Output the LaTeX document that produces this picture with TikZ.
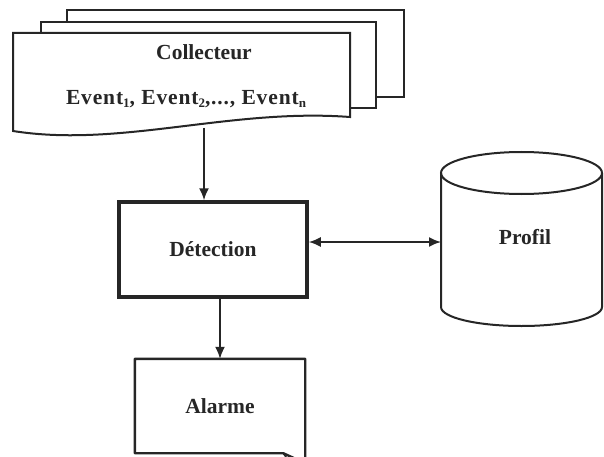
\documentclass[tikz,border=0pt]{standalone}
\usepackage{fontspec}
\setmainfont{Liberation Serif}
\newfontfamily\spacedserif[LetterSpace=4]{Liberation Serif}
\usetikzlibrary{arrows.meta}
\newcommand\evsub[1]{\raisebox{-0.3ex}{\fontsize{13}{13}\selectfont #1}}
\begin{document}
\begin{tikzpicture}[x=1pt,y=-1pt,
  ink/.style={draw=black!85},
  label/.style={font=\fontsize{21.5}{26}\selectfont\bfseries, text=black!85},
  conn/.style={ink, line width=1.8pt, -{Latex[length=12pt,width=10pt]}},
  biconn/.style={ink, line width=1.8pt,
    {Latex[length=12pt,width=10pt]}-{Latex[length=12pt,width=10pt]}}]
\useasboundingbox (0,0) rectangle (604,457);

% stacked documents behind the collector
\draw[ink, line width=1.8pt, fill=white] (67,10) rectangle (404,97);
\draw[ink, line width=1.8pt, fill=white] (41,22) rectangle (376,108);
% front document with wavy bottom edge
\draw[ink, line width=2pt, fill=white]
  (13,33) -- (350,33) -- (350,117)
  .. controls (230,108) and (120,148) .. (13,131) -- cycle;
\node[label] (coll) at (204,52) {Collecteur};
\node[label, font=\fontsize{21.5}{26}\selectfont\spacedserif\bfseries] (events) at (186,99)
  {Event\evsub{1}, Event\evsub{2},..., Event\evsub{n}};
\coordinate (collb) at (204,128);

% detection block
\node[ink, line width=3.5pt, minimum width=188pt, minimum height=95pt,
      inner sep=0pt, label] (det) at (213,249.5) {Détection};

% profile database (cylinder)
\draw[ink, line width=2pt, fill=white]
  (441,173) -- (441,307) arc[start angle=180, end angle=0, x radius=80.5, y radius=19]
  -- (602,173);
\draw[ink, line width=2pt] (521.5,173) ellipse[x radius=80.5, y radius=21];
\node[label] (prof) at (525,237) {Profil};
\coordinate (profw) at (441,242);

% alarm document with folded corner
\node[minimum width=170pt, minimum height=94pt, inner sep=0pt, label]
  (alarm) at (220,406) {Alarme};
\draw[ink, line width=2.4pt, line join=round]
  (alarm.north west) -- (alarm.north east) -- ([yshift=-10pt]alarm.south east)
  -- ([xshift=-22pt]alarm.south east) -- (alarm.south west) -- cycle;
\draw[ink, line width=1.6pt, line join=round]
  ([xshift=-22pt]alarm.south east) -- ([xshift=-16pt,yshift=-8pt]alarm.south east)
  -- ([yshift=-10pt]alarm.south east);

% connectors
\draw[conn] (collb) -- (collb |- det.north);
\draw[biconn] (det.east |- profw) -- (profw);
\draw[conn] (alarm.north |- det.south) -- (alarm.north);
\end{tikzpicture}
\end{document}
